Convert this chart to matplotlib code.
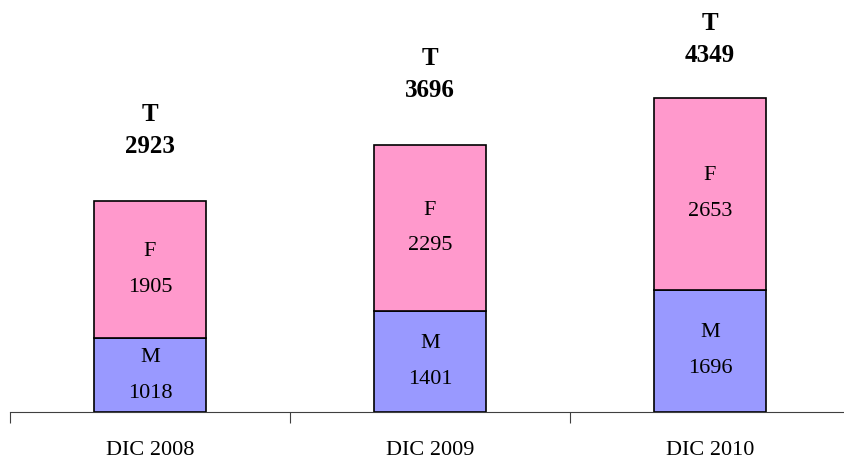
import matplotlib
matplotlib.use("Agg")
import matplotlib.pyplot as plt
import numpy as np

categories = ["DIC 2008", "DIC 2009", "DIC 2010"]
male = [1018, 1401, 1696]
female = [1905, 2295, 2653]
total = [2923, 3696, 4349]

fig = plt.figure(figsize=(8.45, 4.62), dpi=100)
ax = fig.add_axes([10/845, 50/462, 840/845, 412/462])
x = np.arange(len(categories))
w = 0.4
ax.bar(x, male, w, color="#9999FF", edgecolor="black", linewidth=1.2)
ax.bar(x, female, w, bottom=male, color="#FF99CC", edgecolor="black", linewidth=1.2)

ymax = 5706
font = "Liberation Serif"
for i in range(len(x)):
    ax.text(x[i], male[i] / 2, f"M\n{male[i]}", ha="center", va="center",
            family=font, fontsize=16, linespacing=2.2)
    ax.text(x[i], male[i] + female[i] / 2, f"F\n{female[i]}", ha="center", va="center",
            family=font, fontsize=16, linespacing=2.2)
    ty = min(total[i] + 0.172 * ymax, 0.903 * ymax)
    ax.text(x[i], ty, f"T\n{total[i]}", ha="center", va="center", family=font,
            fontsize=18, fontweight="bold", linespacing=1.5)

ax.set_xlim(-0.5, 2.5)
ax.set_ylim(0, ymax)
for s in ["top", "right", "left"]:
    ax.spines[s].set_visible(False)
ax.spines["bottom"].set_color("#404040")
ax.set_yticks([])
ax.set_xticks([-0.5, 0.5, 1.5, 2.5])
ax.set_xticklabels([])
ax.tick_params(axis="x", length=8, color="#404040", direction="out")
ax.set_xticks(x, minor=True)
ax.set_xticklabels(categories, minor=True, family=font, fontsize=16)
ax.tick_params(axis="x", which="minor", length=0, pad=21)

fig.savefig("out.png", dpi=100)
